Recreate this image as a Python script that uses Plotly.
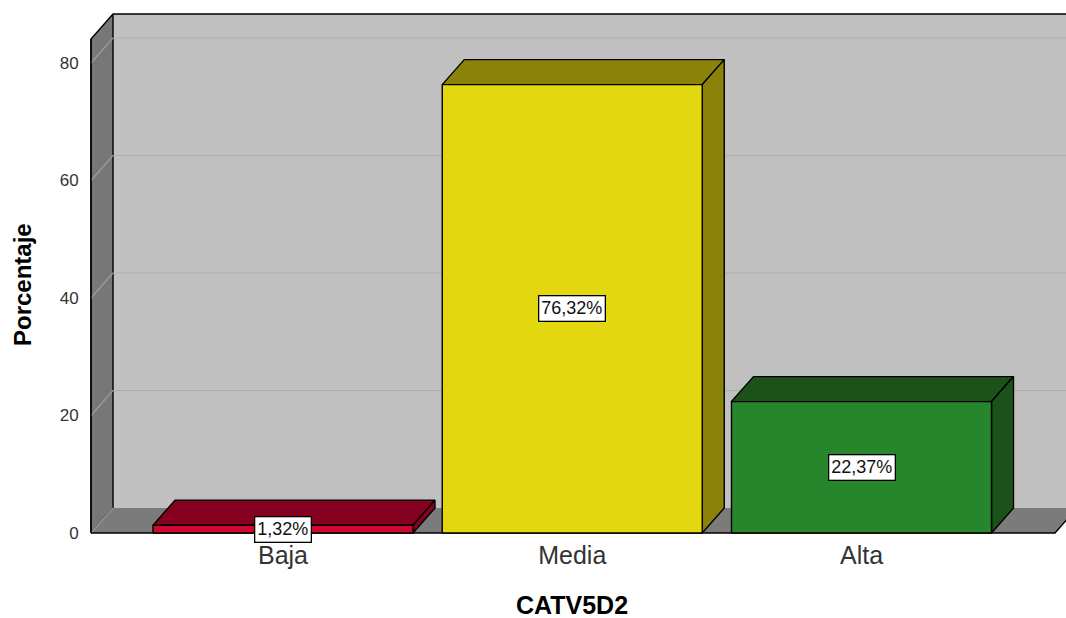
import plotly.graph_objects as go

# Porcentaje por categoría de CATV5D2
categorias = ["Baja", "Media", "Alta"]
porcentajes = [1.32, 76.32, 22.37]
etiquetas = ["1,32%", "76,32%", "22,37%"]
y_ticks = [0, 20, 40, 60, 80]

# colores de cara frontal y de caras superior/lateral
color_frente = ["#d2072f", "#e3d70f", "#27862b"]
color_sombra = ["#860020", "#8b8309", "#1c5219"]

# geometría de la caja 3D (unidades de los ejes)
PX_X = 289.25          # píxeles por unidad de categoría
PX_Y = 5.875           # píxeles por punto porcentual
DX = 22 / PX_X         # profundidad horizontal
DY = 25 / PX_Y         # profundidad vertical
HW = 130 / PX_X        # media anchura de barra
X_RANGE = [(85 - 283) / PX_X, (1066 - 283) / PX_X]
Y_RANGE = [-5 / PX_Y, (533 - 4) / PX_Y]
WALL_X0 = (91 - 283) / PX_X
WALL_TOP = (533 - 14) / PX_Y
FLOOR_X1 = (1055 - 283) / PX_X
X_FAR = 3.0

FONT = "Liberation Sans, Arial, sans-serif"

fig = go.Figure()


def poly(xs, ys, fill=None, line="black", width=1.4):
    fig.add_trace(go.Scatter(
        x=xs, y=ys, mode="lines",
        fill="toself" if fill else None,
        fillcolor=fill,
        line=dict(color=line if line else "rgba(0,0,0,0)", width=width if line else 0),
        hoverinfo="skip", showlegend=False,
    ))


def line(xs, ys, color, width=1.0):
    fig.add_trace(go.Scatter(
        x=xs, y=ys, mode="lines", line=dict(color=color, width=width),
        hoverinfo="skip", showlegend=False,
    ))


# pared del fondo
poly([WALL_X0 + DX, X_FAR, X_FAR, WALL_X0 + DX, WALL_X0 + DX],
     [DY, DY, WALL_TOP, WALL_TOP, DY], fill="#c0c0c0", line=None)

# pared izquierda
poly([WALL_X0, WALL_X0, WALL_X0 + DX, WALL_X0 + DX, WALL_X0],
     [0, WALL_TOP - DY, WALL_TOP, DY, 0], fill="#777777", line="black", width=1.4)

# líneas de cuadrícula en pared del fondo y pared izquierda
for v in y_ticks[1:]:
    line([WALL_X0 + DX, X_FAR], [v + DY, v + DY], "#adadad", 1.2)
    line([WALL_X0, WALL_X0 + DX], [v, v + DY], "#9c9c9c", 1.2)

# borde superior de la pared del fondo
line([WALL_X0 + DX, X_FAR], [WALL_TOP, WALL_TOP], "black", 1.6)

# suelo
poly([WALL_X0, FLOOR_X1, FLOOR_X1 + DX, WALL_X0 + DX, WALL_X0],
     [0, 0, DY, DY, 0], fill="#7b7b7b", line=None)
line([WALL_X0, WALL_X0 + DX], [0, DY], "#9c9c9c", 1.2)
line([WALL_X0, FLOOR_X1, FLOOR_X1 + DX], [0, 0, DY], "black", 1.4)
line([WALL_X0, WALL_X0], [0, WALL_TOP - DY], "black", 1.4)

# barras 3D
for i, (v, cf, cs) in enumerate(zip(porcentajes, color_frente, color_sombra)):
    x0, x1 = i - HW, i + HW
    # cara superior
    poly([x0, x0 + DX, x1 + DX, x1, x0], [v, v + DY, v + DY, v, v], fill=cs)
    # cara lateral
    poly([x1, x1 + DX, x1 + DX, x1, x1], [0, DY, v + DY, v, 0], fill=cs)
    # cara frontal
    poly([x0, x1, x1, x0, x0], [0, 0, v, v, 0], fill=cf)

# etiquetas de valor
for i, (v, t) in enumerate(zip(porcentajes, etiquetas)):
    fig.add_annotation(
        x=i, y=v / 2, xref="x", yref="y", text=t, showarrow=False,
        font=dict(family=FONT, size=18, color="#111111"),
        bgcolor="white", bordercolor="black", borderwidth=1.3, borderpad=2,
        xanchor="center", yanchor="middle",
    )

# títulos de ejes
fig.add_annotation(
    x=1, y=(538 - 605) / 534, xref="x", yref="paper", text="<b>CATV5D2</b>",
    showarrow=False, font=dict(family=FONT, size=25, color="black"),
    height=26, valign="middle",
    xanchor="center", yanchor="middle",
)
fig.add_annotation(
    x=(22 - 85) / 981, y=(538 - 285) / 534, xref="paper", yref="paper",
    text="<b>Porcentaje</b>", textangle=-90, showarrow=False,
    font=dict(family=FONT, size=24, color="black"),
    xanchor="center", yanchor="middle",
)

fig.update_layout(
    width=1066, height=618,
    margin=dict(l=85, r=0, t=4, b=80),
    paper_bgcolor="white", plot_bgcolor="white",
    showlegend=False,
    xaxis=dict(
        range=X_RANGE, showgrid=False, zeroline=False, showline=False,
        tickmode="array", tickvals=list(range(len(categorias))), ticktext=categorias,
        ticks="", ticklen=0,
        tickfont=dict(family=FONT, size=25, color="#333333"),
        fixedrange=True,
    ),
    yaxis=dict(
        range=Y_RANGE, showgrid=False, zeroline=False, showline=False,
        tickmode="array", tickvals=y_ticks, ticktext=[str(t) for t in y_ticks],
        ticks="outside", ticklen=2, tickcolor="rgba(0,0,0,0)",
        tickfont=dict(family=FONT, size=17, color="#333333"),
        fixedrange=True,
    ),
)

fig.write_html("out.html")
